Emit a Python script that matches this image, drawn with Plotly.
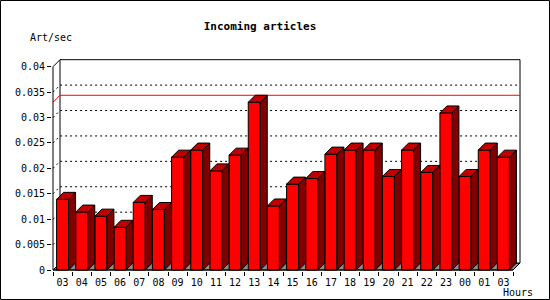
import plotly.graph_objects as go

# ---- data ----
hours = ["03", "04", "05", "06", "07", "08", "09", "10", "11", "12", "13", "14",
         "15", "16", "17", "18", "19", "20", "21", "22", "23", "00", "01", "03"]
values = [0.0139, 0.0114, 0.0106, 0.0084, 0.0133, 0.0119, 0.0222, 0.0236,
          0.0195, 0.0226, 0.0330, 0.0126, 0.0169, 0.0180, 0.0228, 0.0236,
          0.0236, 0.0184, 0.0236, 0.0192, 0.0309, 0.0184, 0.0236, 0.0222]
y_ticks = [0, 0.005, 0.01, 0.015, 0.02, 0.025, 0.03, 0.035, 0.04]
y_ticktext = ["0", "0.005", "0.01", "0.015", "0.02", "0.025", "0.03", "0.035", "0.04"]
title = "Incoming articles"
y_title = "Art/sec"
x_title = "Hours"

# ---- geometry (pixels) ----
W, H = 550, 300
PL, PR, PT, PB = 52, 521, 59, 271          # plot area in px
FRONT_X0, FRONT_X1 = 53, 513               # front x-axis extent
ZERO_Y, TOP_Y = 270, 66.7                  # y px of 0 and 0.04
DEPTH = 7                                  # 3D depth in px
n = len(values)
PX_X = (FRONT_X1 - FRONT_X0) / n
PX_Y = (ZERO_Y - TOP_Y) / y_ticks[-1]
DX = DEPTH / PX_X
DY = DEPTH / PX_Y
BW = 12 / PX_X

xr = [-0.5 - (FRONT_X0 - PL) / PX_X, -0.5 + (PR - FRONT_X0) / PX_X]
yr = [-(PB - ZERO_Y) / PX_Y, (ZERO_Y - PT) / PX_Y]

def pxx(x):
    return (x - PL) / (PR - PL)

def pxy(y):
    return (PB - y) / (PB - PT)

xs = list(range(n))
xl, xr_end = -0.5, n - 0.5
ymax = y_ticks[-1]
FONT = "DejaVu Sans Mono"

shapes = []
# floor
shapes.append(dict(type="path", layer="below", xref="x", yref="y",
                   path=f"M{xl},0 L{xr_end},0 L{xr_end+DX},{DY} L{xl+DX},{DY} Z",
                   fillcolor="#8c8c8c", line=dict(color="black", width=1)))
# back wall
shapes.append(dict(type="rect", layer="below", xref="x", yref="y",
                   x0=xl + DX, x1=xr_end + DX, y0=DY, y1=ymax + DY,
                   fillcolor="white", line=dict(color="black", width=1)))
# dotted grid lines on back wall + side diagonal
for v in y_ticks[1:-1]:
    shapes.append(dict(type="path", layer="below", xref="x", yref="y",
                       path=f"M{xl},{v} L{xl+DX},{v+DY} L{xr_end+DX},{v+DY}",
                       line=dict(color="black", width=1, dash="2px,3px")))
# max line
vmax = max(values)
shapes.append(dict(type="path", layer="below", xref="x", yref="y",
                   path=f"M{xl},{vmax} L{xl+DX},{vmax+DY} L{xr_end+DX},{vmax+DY}",
                   line=dict(color="#ff0000", width=1)))
# left axis line + top diagonal
shapes.append(dict(type="path", layer="below", xref="x", yref="y",
                   path=f"M{xl},0 L{xl},{ymax} L{xl+DX},{ymax+DY}",
                   line=dict(color="black", width=1)))
# bottom axis line
shapes.append(dict(type="line", layer="above", xref="x", yref="y",
                   x0=xl, x1=xr_end, y0=0, y1=0,
                   line=dict(color="black", width=1)))
# outer border
shapes.append(dict(type="rect", xref="paper", yref="paper",
                   x0=pxx(0.5), x1=pxx(W - 0.5), y0=pxy(H - 0.5), y1=pxy(0.5),
                   line=dict(color="black", width=1)))

# side and top faces from values
side_x, side_y, top_x, top_y = [], [], [], []
for c, v in zip(xs, values):
    r = c + BW / 2
    l = c - BW / 2
    side_x += [r, r + DX, r + DX, r, r, None]
    side_y += [0, DY, v + DY, v, 0, None]
    top_x += [l, l + DX, r + DX, r, l, None]
    top_y += [v, v + DY, v + DY, v, v, None]

fig = go.Figure()
fig.add_trace(go.Bar(x=xs, y=values, width=BW,
                     marker=dict(color="#ff0000", line=dict(color="black", width=1)),
                     hoverinfo="skip", showlegend=False))
fig.add_trace(go.Scatter(x=side_x, y=side_y, mode="lines", fill="toself",
                         fillcolor="#800000", line=dict(color="black", width=1),
                         hoverinfo="skip", showlegend=False))
fig.add_trace(go.Scatter(x=top_x, y=top_y, mode="lines", fill="toself",
                         fillcolor="#c00000", line=dict(color="black", width=1),
                         hoverinfo="skip", showlegend=False))
# dummy trace for the label axis
fig.add_trace(go.Scatter(x=[xs[0]], y=[0], xaxis="x2", mode="markers",
                         marker=dict(opacity=0), hoverinfo="skip", showlegend=False))

fig.update_layout(
    width=W, height=H,
    margin=dict(l=PL, r=W - PR, t=PT, b=H - PB, pad=0),
    paper_bgcolor="white", plot_bgcolor="white",
    showlegend=False,
    title=dict(text=f"<b>{title}</b>", x=260 / W, xanchor="center",
               y=1 - 26.5 / H, yanchor="middle", xref="container", yref="container",
               font=dict(family=FONT, size=11, color="black")),
    xaxis=dict(range=xr, showgrid=False, zeroline=False, showline=False,
               tickmode="array", tickvals=[i - 0.5 for i in range(n + 1)],
               ticks="outside", ticklen=4, tickcolor="black", tickwidth=1,
               showticklabels=False, fixedrange=True),
    xaxis2=dict(overlaying="x", matches="x", anchor="y", side="bottom",
                showgrid=False, zeroline=False, showline=False,
                tickmode="array", tickvals=xs, ticktext=hours,
                ticks="outside", ticklen=2, tickcolor="rgba(0,0,0,0)",
                tickfont=dict(family=FONT, size=10, color="black")),
    yaxis=dict(range=yr, showgrid=False, zeroline=False, showline=False,
               tickmode="array", tickvals=y_ticks, ticktext=y_ticktext,
               ticks="outside", ticklen=4, tickcolor="black", tickwidth=1,
               tickfont=dict(family=FONT, size=10, color="black"), fixedrange=True),
    shapes=shapes,
    annotations=[
        dict(text=y_title, xref="paper", yref="paper", x=pxx(28), y=pxy(37.5),
             xanchor="left", yanchor="middle", showarrow=False,
             font=dict(family=FONT, size=10, color="black")),
        dict(text=x_title, xref="paper", yref="paper", x=pxx(535), y=pxy(292),
             xanchor="right", yanchor="middle", showarrow=False,
             font=dict(family=FONT, size=10, color="black")),
    ],
)

fig.write_html("out.html")
